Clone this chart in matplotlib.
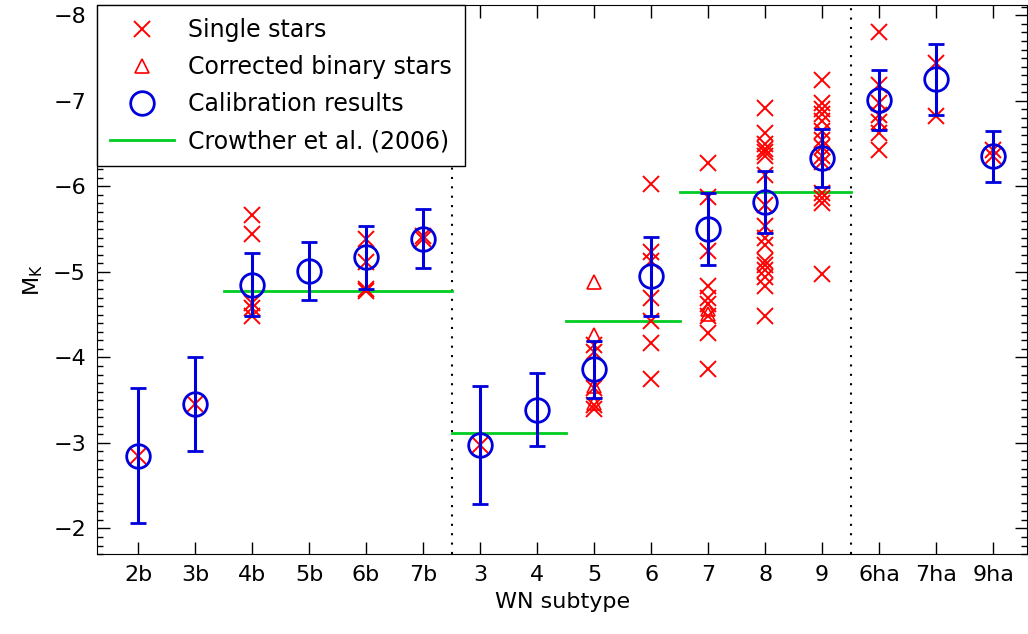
import numpy as np
import matplotlib
matplotlib.use('Agg')
import matplotlib.pyplot as plt
from matplotlib.ticker import MultipleLocator

subtypes = ['2b', '3b', '4b', '5b', '6b', '7b', '3', '4', '5', '6', '7', '8', '9',
            '6ha', '7ha', '9ha']

# calibration results (M_K and 1-sigma error) per subtype
calib_mk = [-2.85, -3.46, -4.85, -5.01, -5.17, -5.39, -2.98, -3.39, -3.86, -4.95,
            -5.50, -5.82, -6.33, -7.01, -7.25, -6.35]
calib_err = [0.79, 0.55, 0.37, 0.34, 0.37, 0.34, 0.69, 0.43, 0.33, 0.46,
             0.42, 0.36, 0.34, 0.35, 0.41, 0.30]

# single stars
single = {
    '2b': [-2.85],
    '3b': [-3.46],
    '4b': [-5.66, -5.44, -4.64, -4.58, -4.49],
    '6b': [-5.39, -5.12, -4.80, -4.78],
    '7b': [-5.42, -5.38],
    '3': [-2.98],
    '5': [-4.14, -4.06, -3.64, -3.44, -3.40],
    '6': [-6.03, -5.23, -5.13, -4.69, -4.43, -4.17, -3.75],
    '7': [-6.27, -5.87, -5.25, -4.84, -4.70, -4.63, -4.49, -4.28, -3.87],
    '8': [-6.92, -6.62, -6.50, -6.44, -6.40, -6.36, -6.13, -5.78, -5.54, -5.40,
          -5.31, -5.13, -5.08, -5.02, -4.94, -4.84, -4.49],
    '9': [-7.24, -6.97, -6.91, -6.85, -6.77, -6.65, -6.54, -6.46, -6.36, -6.28,
          -5.92, -5.86, -5.80, -4.98],
    '6ha': [-7.80, -7.18, -6.98, -6.83, -6.75, -6.62, -6.42],
    '7ha': [-7.44, -6.82],
    '9ha': [-6.42, -6.36],
}

# corrected binary stars
binary = {
    '5': [-4.88, -4.26, -3.67, -3.47],
    '7': [-4.57, -4.51],
}

# Crowther et al. (2006): (x start, x end, M_K)
crowther_x0 = [1.5, 5.5, 7.5, 9.5]
crowther_x1 = [5.5, 7.5, 9.5, 12.5]
crowther_mk = [-4.78, -3.12, -4.42, -5.93]

separators = [5.5, 12.5]

plt.rcParams['font.size'] = 16
fig = plt.figure(figsize=(10.28, 6.34), dpi=100)
ax = fig.add_axes([0.0944, 0.126, 0.905, 0.866])

xpos = np.arange(len(subtypes))

for k, vals in single.items():
    i = subtypes.index(k)
    ax.plot([i] * len(vals), vals, 'x', color='red', ms=11, mew=1.4, ls='none', zorder=3)

for k, vals in binary.items():
    i = subtypes.index(k)
    ax.plot([i] * len(vals), vals, '^', mfc='none', mec='red', ms=10, mew=1.2, ls='none',
            zorder=3)

ax.errorbar(xpos, calib_mk, yerr=calib_err, fmt='o', mfc='none', mec='#0000dd', ecolor='#0000dd',
            ms=17, mew=2, elinewidth=2.2, capsize=6, capthick=2.2, zorder=4)

for x0, x1, m in zip(crowther_x0, crowther_x1, crowther_mk):
    ax.plot([x0, x1], [m, m], color='#00cc22', lw=2, zorder=2)

for s in separators:
    ax.axvline(s, color='black', ls=(0, (1, 3.5)), lw=1.5, zorder=1)

# legend proxies
h1, = ax.plot([], [], 'x', color='red', ms=11, mew=1.4, label='Single stars')
h2, = ax.plot([], [], '^', mfc='none', mec='red', ms=10, mew=1.2, label='Corrected binary stars')
h3, = ax.plot([], [], 'o', mfc='none', mec='#0000dd', ms=17, mew=2, label='Calibration results')
h4, = ax.plot([], [], color='#00cc22', lw=2, label='Crowther et al. (2006)')
leg = ax.legend(handles=[h1, h2, h3, h4], loc='upper left', borderaxespad=0, fancybox=False,
                edgecolor='black', framealpha=1, fontsize=17, handlelength=2.7,
                handletextpad=0.6, borderpad=0.55, labelspacing=0.55)
leg.get_frame().set_linewidth(1)

ax.set_xlim(-0.72, 15.6)
ax.set_ylim(-1.7, -8.12)
ax.set_xticks(xpos)
ax.set_xticklabels(subtypes)
ax.yaxis.set_minor_locator(MultipleLocator(0.1))
ax.set_yticks(np.arange(-8, -1, 1))
ax.set_yticklabels(['\u22128', '\u22127', '\u22126', '\u22125', '\u22124', '\u22123', '\u22122'])
ax.tick_params(axis='both', which='both', direction='in', top=True, right=True, labelsize=16)
ax.tick_params(axis='both', which='major', length=9, width=1, pad=8)
ax.tick_params(axis='y', which='minor', length=4, width=1)
ax.set_xlabel('WN subtype', fontsize=16, labelpad=5)
ax.set_ylabel('M$_\\mathrm{K}$', fontsize=16, labelpad=6)

fig.savefig('out.png', dpi=100)
